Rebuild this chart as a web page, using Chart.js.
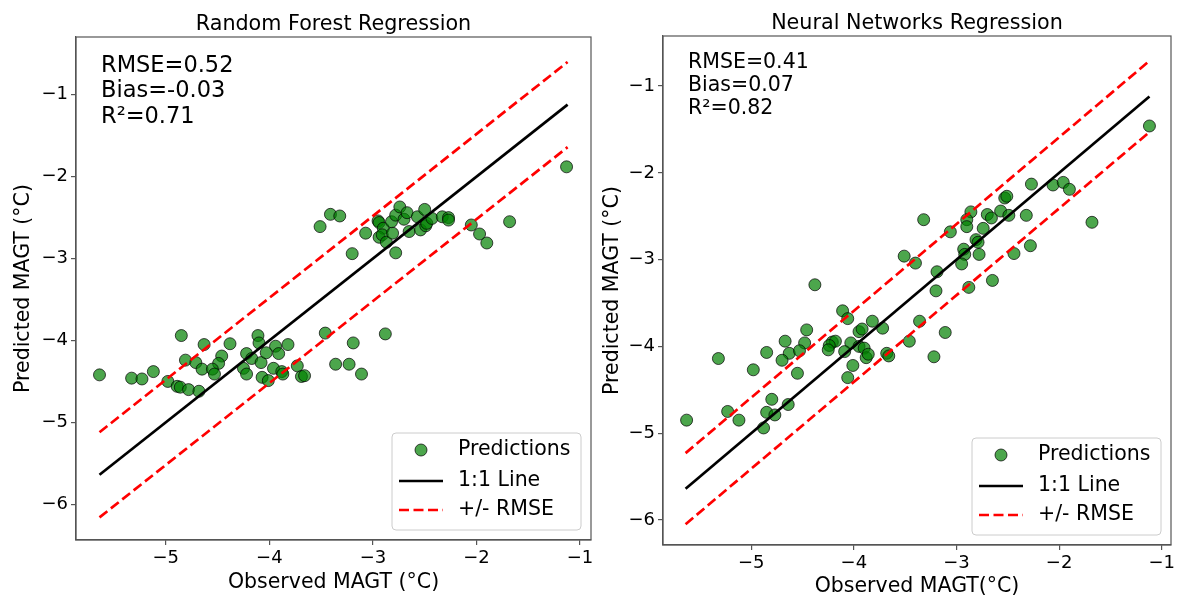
<!DOCTYPE html>
<html>
<head>
<meta charset="utf-8">
<title>MAGT regression</title>
<script src="https://cdn.jsdelivr.net/npm/chart.js@4.4.0/dist/chart.umd.min.js"></script>
<style>
  html, body { margin: 0; padding: 0; background: #fff; }
  #wrap { position: relative; width: 1178px; height: 597px; overflow: hidden; }
  canvas { position: absolute; top: 0; }
  #rf-canvas { left: 0; }
  #nn-canvas { left: 598px; }
</style>
</head>
<body>
<div id="wrap">
  <canvas id="rf-canvas" width="598" height="597"></canvas>
  <canvas id="nn-canvas" width="580" height="597"></canvas>
</div>
<script>
(function(){

  const xTicks = [-5, -4, -3, -2, -1];
  const yTicks = [-6, -5, -4, -3, -2, -1];
  const lineRange = [-5.64, -1.12];
  const legendLabels = ['Predictions', '1:1 Line', '+/- RMSE'];

  // random forest panel
  const rfObserved = [
    -5.64, -5.33, -5.23, -5.12, -4.98, -4.89, -4.86, -4.78, -4.68, -4.85,
    -4.63, -4.38, -4.11, -4.10, -3.82, -3.94, -4.81, -4.71, -4.46, -4.49,
    -4.22, -4.17, -4.08, -4.03, -3.91, -4.65, -4.55, -4.53, -4.25, -4.22,
    -3.96, -3.88, -3.87, -4.07, -4.01, -3.73, -3.69, -3.66, -3.46, -3.51,
    -3.41, -3.32, -3.07, -3.20, -2.95, -2.94, -2.90, -2.94, -2.91, -2.87,
    -2.81, -2.78, -2.82, -2.78, -2.74, -2.70, -2.67, -2.65, -2.57, -2.50,
    -2.54, -2.49, -2.48, -2.43, -2.33, -2.27, -2.27, -2.05, -1.97, -1.90,
    -1.68, -2.88, -3.19, -3.36, -3.23, -3.11, -1.13
  ];
  const rfPredicted = [
    -4.42, -4.46, -4.47, -4.38, -4.50, -4.56, -4.57, -4.60, -4.62, -3.94,
    -4.05, -4.04, -3.94, -4.03, -4.05, -4.07, -4.24, -4.27, -4.19, -4.28,
    -4.16, -4.22, -4.27, -4.15, -4.16, -4.35, -4.35, -4.41, -4.34, -4.41,
    -4.34, -4.38, -4.41, -4.45, -4.49, -4.31, -4.44, -4.43, -3.91, -2.61,
    -2.46, -2.48, -2.69, -2.94, -2.54, -2.56, -2.63, -2.74, -2.71, -2.80,
    -2.69, -2.93, -2.55, -2.47, -2.37, -2.52, -2.44, -2.67, -2.49, -2.40,
    -2.65, -2.60, -2.57, -2.51, -2.49, -2.50, -2.53, -2.59, -2.70, -2.81,
    -2.55, -3.92, -4.03, -4.29, -4.29, -4.41, -1.88
  ];
  const rfRmse = 0.52;
  const rfStats = ['RMSE=0.52', 'Bias=-0.03', 'R\u00b2=0.71'];

  // neural network panel
  const nnObserved = [
    -3.51, -4.38, -4.11, -4.06, -3.82, -3.72, -4.46, -3.95, -3.92, -4.67,
    -4.48, -4.21, -4.18, -4.24, -4.25, -4.03, -4.09, -3.95, -3.90, -3.88,
    -3.86, -3.68, -3.66, -4.85, -4.63, -4.53, -4.70, -5.32, -4.98, -4.55,
    -4.01, -4.06, -4.80, -4.64, -4.85, -4.77, -5.23, -5.12, -5.63, -4.88,
    -2.27, -2.06, -1.96, -1.90, -2.53, -2.51, -1.68, -3.32, -2.86, -2.90,
    -2.90, -3.06, -2.70, -2.66, -2.57, -2.49, -2.32, -2.74, -2.81, -2.79,
    -2.93, -2.92, -2.78, -2.95, -3.40, -3.19, -2.44, -2.28, -2.65, -2.88,
    -3.20, -3.36, -3.11, -3.46, -3.22, -1.12
  ];
  const nnPredicted = [
    -2.96, -3.29, -3.59, -3.68, -3.71, -3.79, -3.81, -3.83, -3.80, -3.94,
    -3.96, -3.95, -3.94, -3.99, -4.04, -3.96, -4.06, -4.00, -4.02, -4.13,
    -4.09, -4.08, -4.11, -4.07, -4.08, -4.05, -4.16, -4.14, -4.27, -4.31,
    -4.22, -4.36, -4.61, -4.67, -4.76, -4.79, -4.75, -4.85, -4.85, -4.94,
    -2.13, -2.14, -2.11, -2.19, -2.29, -2.27, -2.57, -2.54, -2.45, -2.54,
    -2.62, -2.68, -2.48, -2.52, -2.44, -2.49, -2.49, -2.64, -2.77, -2.80,
    -2.88, -2.94, -2.94, -3.05, -3.04, -3.14, -2.93, -2.84, -3.24, -3.32,
    -3.36, -3.71, -3.84, -3.94, -4.12, -1.46
  ];
  const nnRmse = 0.41;
  const nnStats = ['RMSE=0.41', 'Bias=0.07', 'R\u00b2=0.82'];

  const FONT = 'DejaVu Sans';
  const POINT_FILL = 'rgba(0,128,0,0.7)';
  const POINT_EDGE = 'rgba(0,0,0,0.7)';
  const SPINE = '#555';
  const minus = v => String(v).replace('-', '\u2212');

  function getDatasets(observed, predicted, rmse) {
    const line = offset => lineRange.map(v => ({ x: v, y: v + offset }));
    const lineStyle = { showLine: true, pointRadius: 0, borderWidth: 2.7, fill: false };
    return [
      { label: legendLabels[0], data: observed.map((x, i) => ({ x, y: predicted[i] })),
        pointRadius: 6, pointBackgroundColor: POINT_FILL, pointBorderColor: POINT_EDGE,
        pointBorderWidth: 1, order: 3 },
      { label: legendLabels[1], data: line(0), borderColor: '#000', order: 2, ...lineStyle },
      { label: legendLabels[2], data: line(rmse), borderColor: '#ff0000', borderDash: [10, 4.5], order: 1, ...lineStyle },
      { label: legendLabels[2], data: line(-rmse), borderColor: '#ff0000', borderDash: [10, 4.5], order: 1, ...lineStyle }
    ];
  }

  /**
   * axes, tick marks and axis titles with fixed sizes so the plot box lands where it should
   */
  function getScales(p) {
    const tickFont = { family: FONT, size: 18 };
    const grid = { drawOnChartArea: false, drawTicks: true, tickLength: 5, color: SPINE, lineWidth: 1.2 };
    const border = { display: true, color: SPINE, width: 1.2 };
    const titleFont = { family: FONT, size: 20.5, lineHeight: 1 };
    return {
      x: {
        type: 'linear', min: p.xRange[0], max: p.xRange[1], grid, border,
        ticks: { font: tickFont, color: '#000', padding: 3, callback: v => minus(v) },
        title: { display: true, text: p.xTitle, font: titleFont, color: '#000', padding: { top: 0, bottom: p.xTitlePad } },
        afterBuildTicks: s => { s.ticks = xTicks.map(v => ({ value: v })); },
        afterFit: s => { s.height = p.xHeight; s.paddingLeft = 0; s.paddingRight = 0; }
      },
      y: {
        type: 'linear', min: p.yRange[0], max: p.yRange[1], grid, border,
        ticks: { font: tickFont, color: '#000', padding: 3, callback: v => minus(v) },
        title: { display: true, text: 'Predicted MAGT (\u00b0C)', font: titleFont, color: '#000', padding: { top: p.yTitlePad, bottom: 0 } },
        afterBuildTicks: s => { s.ticks = yTicks.map(v => ({ value: v })); },
        afterFit: s => { s.width = p.yWidth; s.paddingTop = 0; s.paddingBottom = 0; }
      }
    };
  }

  // frame, title, stats box text and legend drawn on top of the datasets
  function panelPlugin(p) {
    return {
      id: 'panel',
      afterDatasetsDraw(chart) {
        const { ctx, chartArea: a } = chart;
        ctx.save();
        ctx.strokeStyle = SPINE;
        ctx.lineWidth = 1.2;
        ctx.strokeRect(a.left, a.top, a.right - a.left, a.bottom - a.top);

        ctx.fillStyle = '#000';
        ctx.font = `20.7px "${FONT}"`;
        ctx.textAlign = 'center';
        ctx.textBaseline = 'alphabetic';
        ctx.fillText(p.title, (a.left + a.right) / 2, a.top - 7);

        ctx.textAlign = 'left';
        ctx.font = `${p.statsSize}px "${FONT}"`;
        p.stats.forEach((s, i) => ctx.fillText(s, a.left + 25, a.top + p.statsTop + i * p.statsGap));

        // legend
        const w = 189, h = 97;
        const bx = a.right - 10 - w, by = a.bottom - 10 - h;
        ctx.fillStyle = 'rgba(255,255,255,0.8)';
        ctx.strokeStyle = '#cccccc';
        ctx.lineWidth = 1;
        ctx.beginPath();
        ctx.roundRect(bx, by, w, h, 4);
        ctx.fill();
        ctx.stroke();

        const rows = [17, 48, 77].map(d => by + d);
        ctx.beginPath();
        ctx.arc(bx + 29, rows[0], 6, 0, Math.PI * 2);
        ctx.fillStyle = POINT_FILL;
        ctx.fill();
        ctx.strokeStyle = POINT_EDGE;
        ctx.stroke();

        ctx.lineWidth = 2.7;
        ctx.strokeStyle = '#000';
        ctx.beginPath();
        ctx.moveTo(bx + 7, rows[1]);
        ctx.lineTo(bx + 51, rows[1]);
        ctx.stroke();

        ctx.strokeStyle = '#ff0000';
        ctx.setLineDash([10, 4.5]);
        ctx.beginPath();
        ctx.moveTo(bx + 7, rows[2]);
        ctx.lineTo(bx + 51, rows[2]);
        ctx.stroke();
        ctx.setLineDash([]);

        ctx.fillStyle = '#000';
        ctx.font = `20.5px "${FONT}"`;
        ctx.textBaseline = 'middle';
        legendLabels.forEach((l, i) => ctx.fillText(l, bx + 66, rows[i]));
        ctx.restore();
      }
    };
  }

  function createPanel(canvasId, p) {
    return new Chart(document.getElementById(canvasId).getContext('2d'), {
      type: 'scatter',
      data: { datasets: getDatasets(p.observed, p.predicted, p.rmse) },
      options: {
        responsive: false,
        animation: false,
        events: [],
        layout: { padding: p.padding },
        scales: getScales(p),
        plugins: { legend: { display: false }, title: { display: false }, tooltip: { enabled: false } }
      },
      plugins: [panelPlugin(p)]
    });
  }

  createPanel('rf-canvas', {
    observed: rfObserved, predicted: rfPredicted, rmse: rfRmse,
    title: 'Random Forest Regression', stats: rfStats, statsSize: 22.5, statsTop: 35, statsGap: 25.3,
    xTitle: 'Observed MAGT (\u00b0C)', xRange: [-5.867, -0.894], yRange: [-6.436, -0.295],
    padding: { top: 37, left: 0, right: 6, bottom: 0 }, yWidth: 76, xHeight: 57,
    xTitlePad: 4, yTitlePad: 13
  });

  createPanel('nn-canvas', {
    observed: nnObserved, predicted: nnPredicted, rmse: nnRmse,
    title: 'Neural Networks Regression', stats: nnStats, statsSize: 20.5, statsTop: 31.5, statsGap: 23,
    xTitle: 'Observed MAGT(\u00b0C)', xRange: [-5.86, -0.91], yRange: [-6.289, -0.423],
    padding: { top: 36, left: 0, right: 3, bottom: 0 }, yWidth: 65, xHeight: 52,
    xTitlePad: 0, yTitlePad: 4
  });

})();
</script>
</body>
</html>
